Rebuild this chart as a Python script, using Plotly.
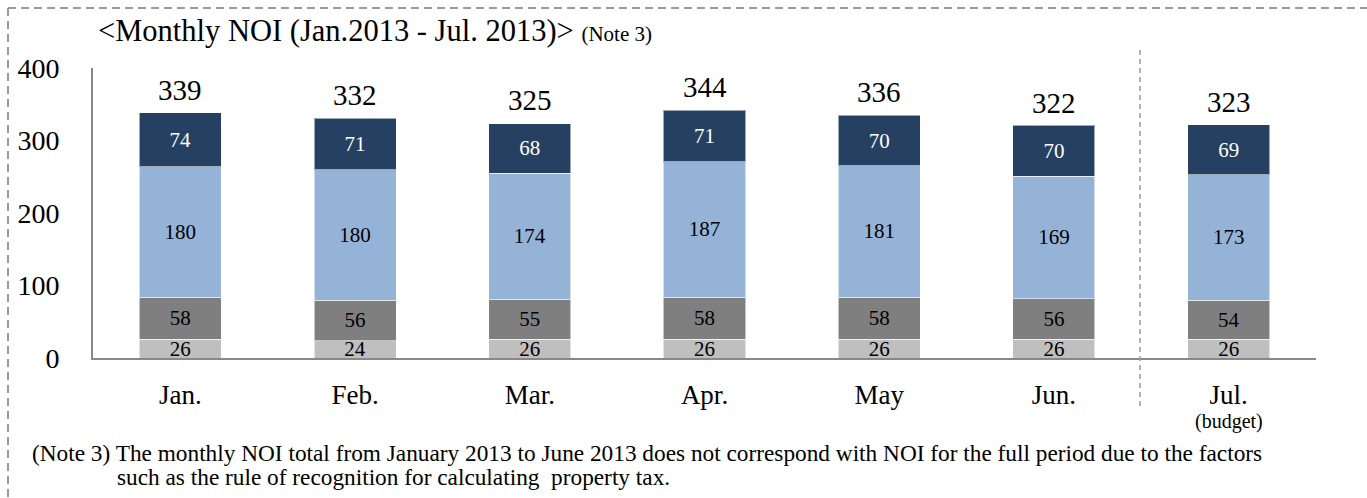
import plotly.graph_objects as go

# Monthly NOI breakdown (stacked from bottom to top)
months = ["Jan.", "Feb.", "Mar.", "Apr.", "May", "Jun.", "Jul."]
seg_bottom = [26, 24, 26, 26, 26, 26, 26]
seg_lower = [58, 56, 55, 58, 58, 56, 54]
seg_middle = [180, 180, 174, 187, 181, 169, 173]
seg_top = [74, 71, 68, 71, 70, 70, 69]
totals = [339, 332, 325, 344, 336, 322, 323]
y_ticks = [0, 100, 200, 300, 400]

FONT = "Liberation Serif"
W, H = 1367, 498
L, R, T, B = 93, 51, 68, 140


def px(x):
    return (x - L) / (W - L - R)


def py(y):
    return (H - B - y) / (H - T - B)


series = [
    (seg_bottom, "#BFBFBF", "black"),
    (seg_lower, "#7F7F7F", "black"),
    (seg_middle, "#95B3D7", "black"),
    (seg_top, "#254061", "white"),
]

fig = go.Figure()
for vals, color, tcolor in series:
    fig.add_trace(go.Bar(
        x=months, y=vals,
        marker=dict(color=color, line=dict(color="rgba(255,255,255,0.55)", width=1)),
        text=[str(v) for v in vals],
        textposition="inside",
        insidetextanchor="middle",
        constraintext="none",
        textangle=0,
        textfont=dict(family=FONT, size=21, color=tcolor),
        width=0.47,
        hoverinfo="skip",
        showlegend=False,
    ))

annotations = []
# totals above each stack
for m, t in zip(months, totals):
    annotations.append(dict(
        x=m, y=t, xref="x", yref="y", text=str(t), showarrow=False,
        yanchor="bottom", yshift=4,
        font=dict(family=FONT, size=29, color="black"),
    ))

annotations.append(dict(
    x=months[-1], y=py(421), xref="x", yref="paper", text="(budget)",
    showarrow=False, yanchor="middle",
    font=dict(family=FONT, size=20, color="black"),
))

annotations.append(dict(
    x=px(96), y=py(31), xref="paper", yref="paper", xanchor="left", yanchor="middle",
    text="<Monthly NOI (Jan.2013 - Jul. 2013)> <span style='font-size:21px'>(Note 3)</span>",
    showarrow=False, font=dict(family=FONT, size=30.5, color="black"),
))

annotations.append(dict(
    x=px(30), y=py(453), xref="paper", yref="paper", xanchor="left", yanchor="middle",
    text="(Note 3) The monthly NOI total from January 2013 to June 2013 does not correspond with NOI for the full period due to the factors",
    showarrow=False, font=dict(family=FONT, size=23.3, color="black"),
))
annotations.append(dict(
    x=px(115), y=py(477), xref="paper", yref="paper", xanchor="left", yanchor="middle",
    text="such as the rule of recognition for calculating  property tax.",
    showarrow=False, font=dict(family=FONT, size=23.3, color="black"),
))

shapes = [
    # dashed frame (top and left edges)
    dict(type="line", xref="paper", yref="paper", x0=px(8), x1=px(1367), y0=py(8), y1=py(8),
         line=dict(color="#9A9A9A", width=2, dash="8px,5px")),
    dict(type="line", xref="paper", yref="paper", x0=px(8), x1=px(8), y0=py(8), y1=py(498),
         line=dict(color="#9A9A9A", width=2, dash="8px,5px")),
    # separator between actual and budget months
    dict(type="line", xref="paper", yref="paper", x0=px(1140), x1=px(1140), y0=py(50), y1=py(410),
         line=dict(color="#9A9A9A", width=1.5, dash="5px,4px")),
]

fig.update_layout(
    barmode="stack",
    width=W, height=H,
    margin=dict(l=L, r=R, t=T, b=B, pad=0),
    paper_bgcolor="white", plot_bgcolor="white",
    annotations=annotations,
    shapes=shapes,
    bargap=0.53,
)
fig.update_xaxes(
    type="category", range=[-0.5, 6.5],
    showline=True, linecolor="#888888", linewidth=2,
    showgrid=False, ticks="", ticklabelstandoff=12,
    tickfont=dict(family=FONT, size=27, color="black"),
)
fig.update_yaxes(
    range=[0, 400], tickvals=y_ticks,
    showline=True, linecolor="#888888", linewidth=2,
    showgrid=False, zeroline=False, ticks="", ticklabelstandoff=26,
    tickfont=dict(family=FONT, size=28, color="black"),
)

fig.write_html("out.html")
